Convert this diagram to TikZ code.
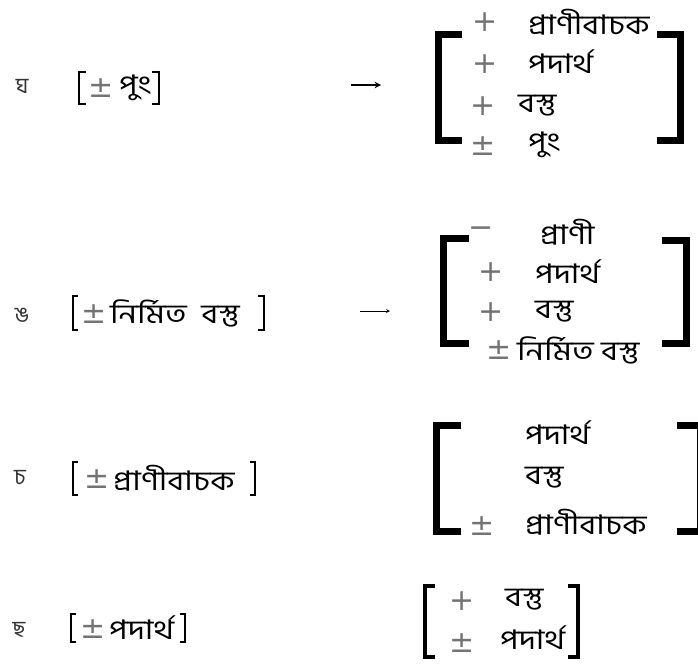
\documentclass[tikz,border=0pt]{standalone}
\usepackage{fontspec}
\newfontfamily\bn[Script=Bengali, FakeStretch=1.2]{Hind Siliguri}
\newfontfamily\bnl[Script=Bengali]{Hind Siliguri}
\newfontfamily\sgf{DejaVu Sans}
\begin{document}
\begin{tikzpicture}[x=1pt,y=-1pt,
  txt/.style={font=\bn\fontsize{27}{27}\selectfont, inner sep=0pt, anchor=west},
  lbl/.style={font=\bnl\fontsize{22}{22}\selectfont, inner sep=0pt, text=black!80},
  sgn/.style={font=\sgf\fontsize{30}{30}\selectfont, inner sep=0pt, text=black!55},
  big/.style={line width=7pt, line join=miter, line cap=rect},
  small/.style={line width=1.8pt, line join=miter},
  arr/.style={-stealth, line width=1.2pt}]
\useasboundingbox (0,0) rectangle (698,664);
% ---------- row 1
\node[lbl] (l1) at (22,86) {ঘ};
\draw[small] (86,72)--(79,72)--(79,104)--(86,104);
\draw[small] (152,72)--(159,72)--(159,104)--(152,104);
\node[sgn] (q1) at (101,88) {±};
\node[txt] (s1) at (119,88) {পুং};
\coordinate (a1s) at (351,85); \coordinate (a1e) at (381,85);
\draw[arr, line width=1.8pt] (a1s) -- (a1e);
\draw[big] (458,34)--(438,34)--(438,140)--(458,140);
\draw[big] (660,34)--(680,34)--(680,140)--(660,140);
\node[sgn] (p11) at (485,22) {+};
\node[txt] (t11) at (528,22) {প্রাণীবাচক};
\node[sgn] (p12) at (485,64) {+};
\node[txt] (t12) at (528,62) {পদার্থ};
\node[sgn] (p13) at (483,106) {+};
\node[txt] (t13) at (518,106) {বস্তু};
\node[sgn] (p14) at (483,146) {±};
\node[txt] (t14) at (528,145) {পুং};
% ---------- row 2
\node[lbl] (l2) at (22,315) {ঙ};
\draw[small] (78,296)--(73,296)--(73,330)--(78,330);
\draw[small] (258,296)--(264,296)--(264,330)--(258,330);
\node[sgn] (q2) at (94,314) {±};
\node[txt] (s2) at (110,313) {নির্মিত\ \ বস্তু};
\coordinate (a2s) at (360,311); \coordinate (a2e) at (390,311);
\draw[arr, line width=0.8pt] (a2s) -- (a2e);
\draw[big] (465,238)--(443,238)--(443,343)--(465,343);
\draw[big] (665,240)--(686,240)--(686,343)--(665,343);
\node[sgn] (p21) at (481,232) {−};
\node[txt] (t21) at (540,232) {প্রাণী};
\node[sgn] (p22) at (491,272) {+};
\node[txt] (t22) at (535,272) {পদার্থ};
\node[sgn] (p23) at (491,312) {+};
\node[txt] (t23) at (535,312) {বস্তু};
\node[sgn] (p24) at (499,350) {±};
\node[txt] (t24) at (517,350) {নির্মিত\ বস্তু};
% ---------- row 3
\node[lbl] (l3) at (20,478) {চ};
\draw[small] (78,462)--(73,462)--(73,495)--(78,495);
\draw[small] (250,462)--(255,462)--(255,495)--(250,495);
\node[sgn] (q3) at (97,479) {±};
\node[txt] (s3) at (113,478) {প্রাণীবাচক};
\draw[big] (457,425)--(436,425)--(436,531)--(457,531);
\draw[big] (680,425)--(700,425)--(700,531)--(680,531);
\node[txt] (t31) at (525,433) {পদার্থ};
\node[txt] (t32) at (525,478) {বস্তু};
\node[sgn] (p33) at (482,526) {±};
\node[txt] (t33) at (525,522) {প্রাণীবাচক};
% ---------- row 4
\node[lbl] (l4) at (19,630) {ছ};
\draw[small] (76,614)--(71,614)--(71,642)--(76,642);
\draw[small] (180,614)--(185,614)--(185,642)--(180,642);
\node[sgn] (q4) at (93,629) {±};
\node[txt] (s4) at (109,628) {পদার্থ};
\draw[line width=3.5pt, line join=miter] (435,586)--(425,586)--(425,657)--(435,657);
\draw[line width=3.5pt, line join=miter] (568,586)--(578,586)--(578,657)--(568,657);
\node[sgn] (p41) at (462,601) {+};
\node[txt] (t41) at (505,600) {বস্তু};
\node[sgn] (p42) at (462,643) {±};
\node[txt] (t42) at (500,638) {পদার্থ};
\end{tikzpicture}
\end{document}
